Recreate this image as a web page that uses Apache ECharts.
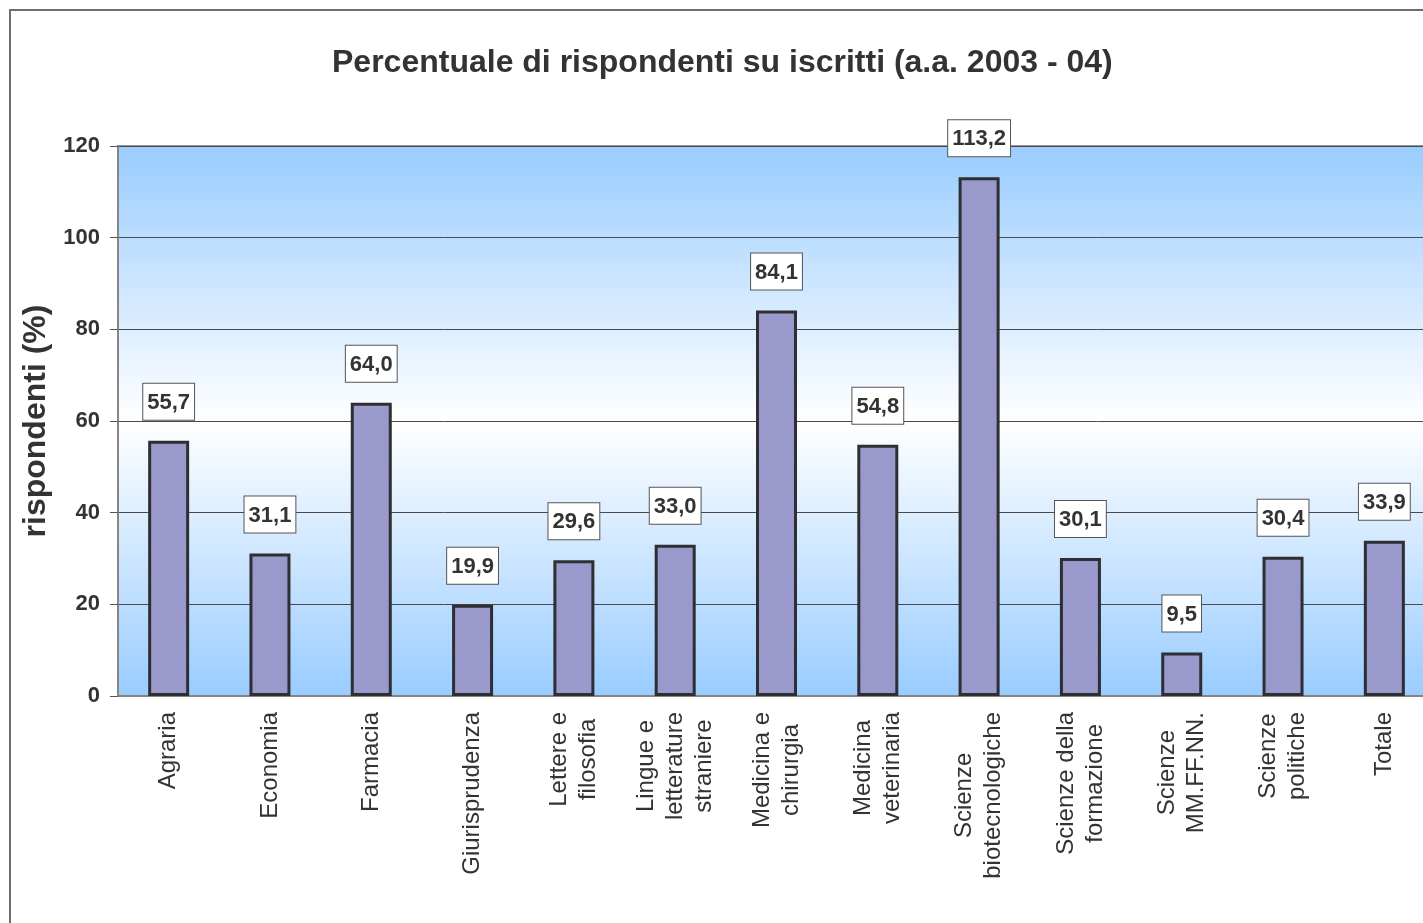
<!DOCTYPE html>
<html>
<head>
<meta charset="utf-8">
<script src="https://cdn.jsdelivr.net/npm/echarts@6/dist/echarts.min.js"></script>
<style>
  html, body { margin: 0; padding: 0; background: #fff; }
  #main { width: 1423px; height: 923px; }
</style>
</head>
<body>
<div id="main"></div>
<script>
// facoltà (categorie asse x)
var categories = [
  'Agraria', 'Economia', 'Farmacia', 'Giurisprudenza', 'Lettere e\nfilosofia',
  'Lingue e\nletterature\nstraniere', 'Medicina e\nchirurgia', 'Medicina\nveterinaria',
  'Scienze\nbiotecnologiche', 'Scienze della\nformazione', 'Scienze\nMM.FF.NN.',
  'Scienze\npolitiche', 'Totale'
];
// percentuale rispondenti su iscritti
var values = [55.7, 31.1, 64.0, 19.9, 29.6, 33.0, 84.1, 54.8, 113.2, 30.1, 9.5, 30.4, 33.9];
var yTicks = [0, 20, 40, 60, 80, 100, 120];

var font = 'Liberation Sans, Arial, sans-serif';
var myChart = echarts.init(document.getElementById('main'));

myChart.setOption({
  backgroundColor: '#ffffff',
  animation: false,
  graphic: [{
    type: 'rect',
    shape: { x: 10, y: 10, width: 1500, height: 1000 },
    style: { fill: 'none', stroke: '#6e6e6e', lineWidth: 2 },
    z: 100
  }],
  title: {
    text: 'Percentuale di rispondenti su iscritti (a.a. 2003 - 04)',
    left: 327,
    top: 42,
    textStyle: { fontFamily: font, fontSize: 32, fontWeight: 'bold', color: '#333333' }
  },
  grid: {
    left: 118,
    top: 146,
    height: 550,
    width: 1317,
    outerBoundsMode: 'none',
    containLabel: false,
    show: true,
    borderColor: '#9a9494',
    borderWidth: 2,
    backgroundColor: {
      type: 'linear', x: 0, y: 0, x2: 0, y2: 1,
      colorStops: [
        { offset: 0, color: '#99ccff' },
        { offset: 0.5, color: '#ffffff' },
        { offset: 1, color: '#99ccff' }
      ]
    }
  },
  xAxis: {
    type: 'category',
    data: categories,
    axisLine: { lineStyle: { color: '#8a8585', width: 2 } },
    axisTick: { length: 8, lineStyle: { color: '#555555', width: 1 } },
    axisLabel: {
      interval: 0,
      rotate: 90,
      margin: 16,
      formatter: function (v) {
        return v.split('\n').map(function (s) { return '{c|' + s + '}'; }).join('\n');
      },
      rich: {
        c: { align: 'center', fontFamily: font, fontSize: 24, color: '#333333', lineHeight: 29 }
      }
    }
  },
  yAxis: {
    type: 'value',
    min: yTicks[0],
    max: yTicks[yTicks.length - 1],
    interval: 20,
    name: 'rispondenti (%)',
    nameLocation: 'middle',
    nameGap: 64,
    nameTextStyle: { fontFamily: font, fontSize: 32, fontWeight: 'bold', color: '#333333' },
    axisLine: { show: true, lineStyle: { color: '#8a8585', width: 2 } },
    axisTick: { show: true, length: 8, lineStyle: { color: '#555555' } },
    axisLabel: { fontFamily: font, fontSize: 22, fontWeight: 'bold', color: '#333333', margin: 18 },
    splitLine: { lineStyle: { color: '#4a4a4a', width: 1 } }
  },
  series: [{
    type: 'bar',
    data: values,
    barWidth: 41,
    itemStyle: { color: '#9999cc', borderColor: '#2e2e33', borderWidth: 3 },
    label: {
      show: true,
      position: 'top',
      distance: 21,
      formatter: function (p) { return p.value.toFixed(1).replace('.', ','); },
      fontFamily: font,
      fontSize: 22,
      fontWeight: 'bold',
      color: '#333333',
      backgroundColor: '#ffffff',
      borderColor: '#555555',
      borderWidth: 1,
      padding: [8, 4, 6, 4]
    },
    z: 3
  }]
});
</script>
</body>
</html>
